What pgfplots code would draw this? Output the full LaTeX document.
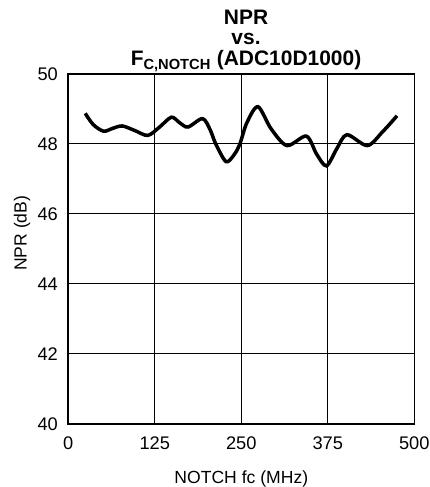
\documentclass[border=0pt]{standalone}
\usepackage{fontspec}
\setmainfont{Liberation Sans}
\usepackage{pgfplots}
\pgfplotsset{compat=1.18}

\begin{document}
\begin{tikzpicture}
\begin{axis}[
  scale only axis,
  width=256pt,
  height=259pt,
  xmin=0, xmax=500,
  ymin=40, ymax=50,
  xtick={0,125,250,375,500},
  ytick={40,42,44,46,48,50},
  grid=major,
  grid style={black, line width=0.8pt},
  axis line style={black, line width=1.2pt},
  tick style={draw=none},
  /pgf/number format/assume math mode=true,
  ticklabel style={font=\fontsize{13.5}{15}\selectfont, inner sep=0pt},
  xticklabel style={yshift=-9pt},
  yticklabel style={xshift=-7.5pt},
  xlabel={NOTCH fc (MHz)},
  ylabel={NPR (dB)},
  label style={font=\fontsize{13}{15}\selectfont, inner sep=0pt},
  xlabel style={at={(axis description cs:0.5,0)}, anchor=base, yshift=-44pt},
  ylabel style={at={(axis description cs:-0.1203,0.5446)}, anchor=base,
    inner ysep=10.3pt},
  title={\rule{0pt}{17.8pt}NPR\\vs.\\F\textsubscript{C,NOTCH} (ADC10D1000)},
  title style={at={(axis description cs:0.5,1)}, anchor=south, inner sep=0pt,
    yshift=-4.5pt, xshift=3.5pt,
    align=center, font=\bfseries\fontsize{15.5}{15.4}\selectfont},
]
\addplot[black, line width=2.6pt, smooth, no markers] coordinates {
  (24.5, 48.87)
  (36, 48.55)
  (51, 48.36)
  (64, 48.44)
  (78, 48.51)
  (96, 48.38)
  (115, 48.24)
  (132, 48.48)
  (149, 48.76)
  (161, 48.60)
  (173, 48.48)
  (194, 48.72)
  (205, 48.40)
  (213, 48.00)
  (228, 47.49)
  (240, 47.70)
  (248, 48.00)
  (258, 48.60)
  (274, 49.06)
  (293, 48.43)
  (316, 47.95)
  (344, 48.22)
  (358.7, 47.71)
  (373, 47.37)
  (388, 47.86)
  (402.6, 48.26)
  (432, 47.95)
  (454, 48.34)
  (475, 48.80)
};
\end{axis}
\end{tikzpicture}
\end{document}
